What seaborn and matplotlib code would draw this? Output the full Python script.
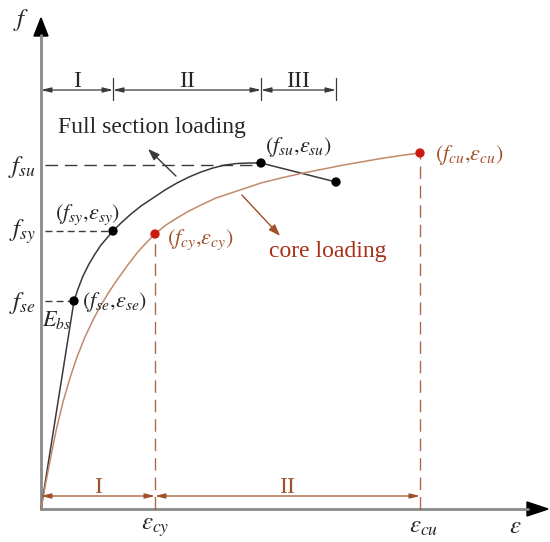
import numpy as np
import pandas as pd
import seaborn as sns
import matplotlib.pyplot as plt

# Data (strain / stress in drawing units, origin at axes intersection)=========================
full_eps = [0, 33, 37, 42, 48, 54, 60, 66, 72, 80, 90, 100, 112, 124, 136, 148, 160, 172, 184, 196, 208, 220]
full_f = [0, 208, 220, 233, 245, 255, 264, 271, 278, 286, 295, 303, 311, 319, 326, 332, 337, 341, 344, 345.5, 346, 346]
drop_eps = [220, 295]
drop_f = [346, 327]
core_eps = [0, 4, 9, 15, 22, 29, 36, 44, 52, 60, 68, 76, 86, 96, 105, 114, 125, 136, 148, 160, 175, 190,
            205, 220, 240, 260, 280, 300, 320, 340, 360, 379]
core_f = [0, 22, 48, 78, 107, 131, 152, 172, 189, 204, 217, 229, 243, 256, 266, 275, 284, 291, 298, 304, 311, 316,
          321, 326, 331, 335.5, 339.5, 343.5, 347, 350.5, 353.5, 356]

full_pts_eps = [33, 72, 220, 295]
full_pts_f = [208, 278, 346, 327]
core_pts_eps = [114, 379]
core_pts_f = [275, 356]

stage_full = [0, 72, 220, 295]
stage_full_lab = ['I', 'II', 'III']
stage_core = [0, 114, 379]
stage_core_lab = ['I', 'II']

# Style============================================================================================
sns.set_style('white')
plt.rcParams['font.family'] = ['Liberation Serif', 'DejaVu Serif']
plt.rcParams['mathtext.fontset'] = 'stix'

black = '#3a3a3a'
axis_gray = '#8a8a8a'
core_line = '#c08a6a'
core_dark = '#a0502a'
core_text = '#a83018'
dot_red = '#cc1a10'

fig = plt.figure(figsize=(5.5, 5.42), dpi=100)
ax = fig.add_axes([0, 0, 1, 1])
ax.set_xlim(-41, 509)
ax.set_ylim(-33, 509)
ax.axis('off')

# axes with arrow heads
ax.plot([0, 0], [0, 474], color=axis_gray, lw=2)
ax.plot([0, 487], [0, 0], color=axis_gray, lw=2)
ax.fill([-7, 7, 0], [473, 473, 491], color='black')
ax.fill([486, 486, 507], [-7, 7, 0], color='black')
ax.text(-20, 489, r'$f$', fontsize=18, ha='center', va='center')
ax.text(474, -18, r'$\varepsilon$', fontsize=18, ha='center', va='center')

# curves
df_full = pd.DataFrame({'eps': full_eps, 'f': full_f})
df_drop = pd.DataFrame({'eps': drop_eps, 'f': drop_f})
df_core = pd.DataFrame({'eps': core_eps, 'f': core_f})
sns.lineplot(data=df_full, x='eps', y='f', sort=False, estimator=None, color=black, lw=1.1, ax=ax)
sns.lineplot(data=df_drop, x='eps', y='f', sort=False, estimator=None, color=black, lw=1.1, ax=ax)
sns.lineplot(data=df_core, x='eps', y='f', sort=False, estimator=None, color=core_line, lw=1.1, ax=ax)

# guide lines
ax.plot([4, full_pts_eps[2]], [344, 344], color=black, lw=1, ls=(0, (9, 5)))
ax.plot([4, full_pts_eps[1]], [full_pts_f[1]] * 2, color=black, lw=1, ls=(0, (5, 3)))
ax.plot([4, full_pts_eps[0]], [full_pts_f[0]] * 2, color=black, lw=1, ls=(0, (5, 3)))
for e, f in zip(core_pts_eps, core_pts_f):
    ax.plot([e, e], [0, f], color=core_dark, lw=1, ls=(0, (9, 5)), alpha=0.85)

# points
sns.scatterplot(x=full_pts_eps, y=full_pts_f, color='black', s=45, edgecolor='none', ax=ax, zorder=5)
sns.scatterplot(x=core_pts_eps, y=core_pts_f, color=dot_red, s=45, edgecolor='none', ax=ax, zorder=5)

# stage dimension lines (top, full section)
dim_y = 419
for x in stage_full:
    if x > 0:
        ax.plot([x, x], [409, 431], color=black, lw=0.9)
for a, b, lab in zip(stage_full[:-1], stage_full[1:], stage_full_lab):
    ax.annotate('', xy=(b, dim_y), xytext=(a, dim_y),
                arrowprops=dict(arrowstyle='<|-|>,head_length=0.6,head_width=0.15', color=black, lw=0.9,
                                shrinkA=0, shrinkB=0))
    ax.text((a + b) / 2, dim_y + 3, lab, fontsize=17, ha='center', va='baseline')

# stage dimension lines (bottom, core)
dim_y2 = 13
for a, b, lab in zip(stage_core[:-1], stage_core[1:], stage_core_lab):
    ax.annotate('', xy=(b, dim_y2), xytext=(a, dim_y2),
                arrowprops=dict(arrowstyle='<|-|>,head_length=0.6,head_width=0.15', color=core_dark, lw=0.9,
                                shrinkA=0, shrinkB=0))
    ax.text((a + b) / 2, dim_y2 + 3, lab, fontsize=17, ha='center', va='baseline', color=core_dark)

# y labels
ax.text(-19, 342, r'$f_{su}$', fontsize=18, ha='center', va='center')
ax.text(-19, 277, r'$f_{sy}$', fontsize=18, ha='center', va='center')
ax.text(-19, 206, r'$f_{se}$', fontsize=18, ha='center', va='center')
ax.text(15.5, 189, r'$E_{bs}$', fontsize=16, ha='center', va='center')

# x labels
ax.text(114, -19, r'$\varepsilon_{cy}$', fontsize=18, ha='center', va='center')
ax.text(383, -18, r'$\varepsilon_{cu}$', fontsize=18, ha='center', va='center')

# point labels
ax.text(224, 362, r'$(f_{su}{,}\varepsilon_{su})$', fontsize=16, ha='left', va='center')
ax.text(14, 294, r'$(f_{sy}{,}\varepsilon_{sy})$', fontsize=16, ha='left', va='center')
ax.text(41, 207, r'$(f_{se}{,}\varepsilon_{se})$', fontsize=16, ha='left', va='center')
ax.text(126, 269, r'$(f_{cy}{,}\varepsilon_{cy})$', fontsize=16, ha='left', va='center', color=core_dark)
ax.text(394, 354, r'$(f_{cu}{,}\varepsilon_{cu})$', fontsize=16, ha='left', va='center', color=core_dark)

# curve names
ax.text(111, 381, 'Full section loading', fontsize=17, ha='center', va='center')
ax.annotate('', xy=(105, 362), xytext=(137, 331),
            arrowprops=dict(arrowstyle='-|>,head_length=0.7,head_width=0.25', color=black, lw=1))
ax.text(287, 257, 'core loading', fontsize=17, ha='center', va='center', color=core_text)
ax.annotate('', xy=(241, 271), xytext=(199, 316),
            arrowprops=dict(arrowstyle='-|>,head_length=0.7,head_width=0.25', color=core_dark, lw=1))

fig.savefig('out.png', dpi=100)
